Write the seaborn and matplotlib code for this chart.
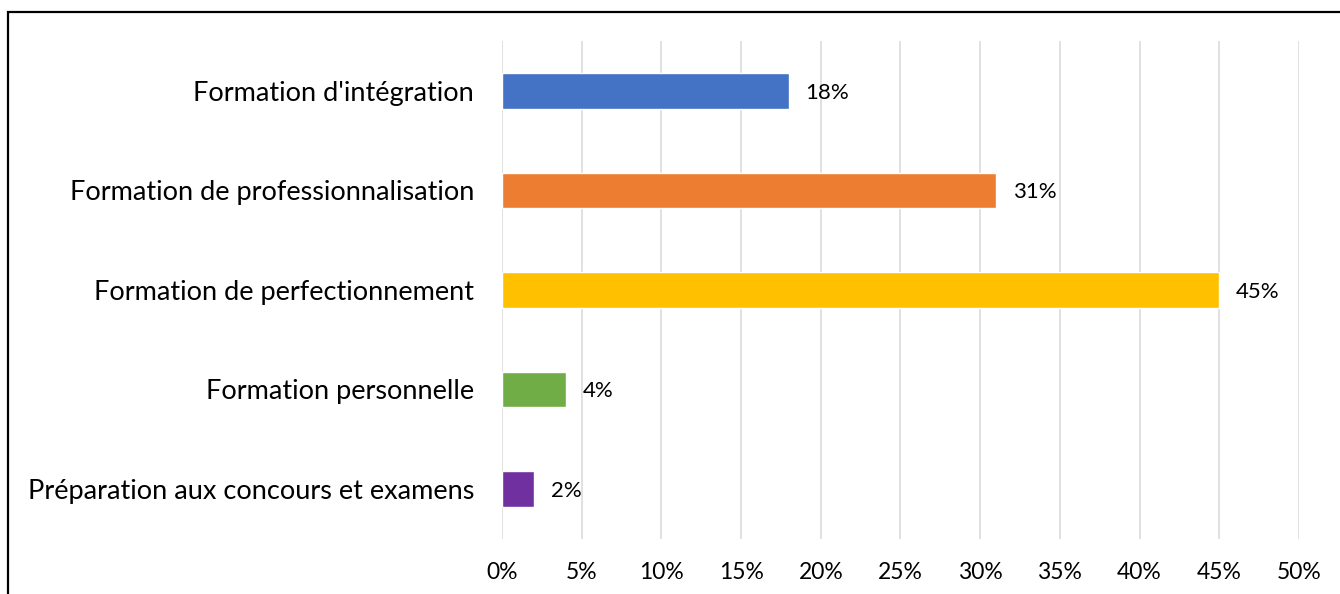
import matplotlib
matplotlib.use("Agg")
import matplotlib.pyplot as plt
from matplotlib.patches import Rectangle
from matplotlib.ticker import FuncFormatter, MultipleLocator
import seaborn as sns
import pandas as pd

categories = [
    "Formation d'intégration",
    "Formation de professionnalisation",
    "Formation de perfectionnement",
    "Formation personnelle",
    "Préparation aux concours et examens",
]
values = [18, 31, 45, 4, 2]
colors = ["#4472C4", "#ED7D31", "#FFC000", "#70AD47", "#7030A0"]

sns.set_theme(style="white")
plt.rcParams["font.family"] = ["Lato", "DejaVu Sans"]

df = pd.DataFrame({"type": categories, "pct": values})

fig = plt.figure(figsize=(13.4, 5.94), dpi=100)
ax = fig.add_axes([0.3746, 0.0930, 0.5948, 0.8376])

sns.barplot(data=df, x="pct", y="type", hue="type", palette=colors,
            order=categories, hue_order=categories, width=0.36,
            orient="h", dodge=False, legend=False, ax=ax, saturation=1)

ax.set_xlim(0, 50)
ax.set_ylim(4.5, -0.5)
ax.xaxis.set_major_locator(MultipleLocator(5))
ax.xaxis.set_major_formatter(FuncFormatter(lambda v, _: f"{v:.0f}%"))
ax.grid(axis="x", color="#D9D9D9", linewidth=1.1)
ax.grid(axis="y", visible=False)
ax.set_axisbelow(True)
for s in ax.spines.values():
    s.set_visible(False)
ax.set_xlabel("")
ax.set_ylabel("")
ax.tick_params(axis="x", length=0, pad=17, labelsize=16.5, colors="#000000")
ax.tick_params(axis="y", length=0, pad=20, labelsize=19.5, colors="#000000")

for cont in ax.containers:
    texts = ax.bar_label(cont, labels=[f"{v:.0f}%" for v in cont.datavalues],
                         padding=12, fontsize=16, color="#000000")
    for t in texts:
        t.set_va("center_baseline")

# outer frame of the chart area
fig.patches.append(Rectangle((8 / 1340, -0.2), 1.2, (594 - 12) / 594 + 0.2,
                             transform=fig.transFigure, fill=False,
                             edgecolor="#000000", linewidth=1.6, clip_on=False))

fig.savefig("out.png", dpi=100)
